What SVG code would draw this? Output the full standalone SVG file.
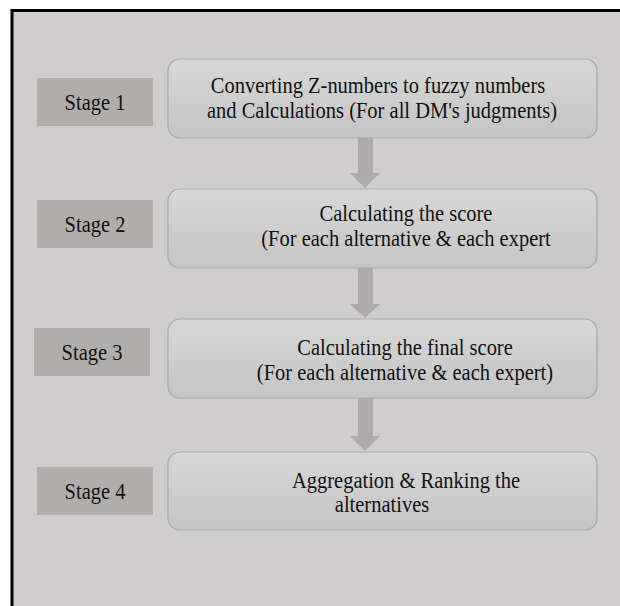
<svg xmlns="http://www.w3.org/2000/svg" width="620" height="606" viewBox="0 0 620 606">
  <defs>
    <linearGradient id="boxGrad" x1="0" y1="0" x2="0" y2="1">
      <stop offset="0" stop-color="#d7d7d7"/>
      <stop offset="1" stop-color="#c5c5c5"/>
    </linearGradient>
    <style>
      .frame { fill: #cfcdcd; stroke: #000000; stroke-width: 3; }
      .stage { fill: #b1adab; }
      .box { fill: url(#boxGrad); stroke: #a9a9a9; stroke-width: 1.2; }
      .arrow { fill: #aeaaaa; }
      .t { font-family: "Liberation Serif", "Times New Roman", serif; font-size: 20.5px; fill: #111111; text-anchor: middle; }
    </style>
  </defs>
  <rect x="0" y="0" width="620" height="606" fill="#ffffff"/>
  <rect class="frame" x="12" y="10.5" width="620" height="620"/>

  <g id="connectors">
    <polygon class="arrow" points="358,138 373,138 373,173 380,173 365,188 350,173 358,173"/>
    <polygon class="arrow" points="358,268 373,268 373,304 380,304 365,318 350,304 358,304"/>
    <polygon class="arrow" points="358,398 373,398 373,436 380,436 365,451 350,436 358,436"/>
  </g>

  <g id="stage1">
    <rect class="stage" x="37" y="78" width="116" height="48"/>
    <text class="t" transform="translate(95,109.5) scale(1,1.12)">Stage 1</text>
  </g>
  <g id="step1">
    <rect class="box" x="168" y="59" width="429" height="79" rx="12"/>
    <text class="t" transform="translate(378,93) scale(1,1.1)">Converting Z-numbers to fuzzy numbers</text>
    <text class="t" transform="translate(382,117.5) scale(1,1.1)">and Calculations (For all DM's judgments)</text>
  </g>

  <g id="stage2">
    <rect class="stage" x="37" y="200" width="116" height="48"/>
    <text class="t" transform="translate(95,231.5) scale(1,1.12)">Stage 2</text>
  </g>
  <g id="step2">
    <rect class="box" x="168" y="189" width="429" height="79" rx="12"/>
    <text class="t" transform="translate(406,221) scale(1,1.1)">Calculating the score</text>
    <text class="t" transform="translate(406,245.5) scale(1,1.1)">(For each alternative &amp; each expert</text>
  </g>

  <g id="stage3">
    <rect class="stage" x="34" y="328" width="116" height="48"/>
    <text class="t" transform="translate(92,359.5) scale(1,1.12)">Stage 3</text>
  </g>
  <g id="step3">
    <rect class="box" x="168" y="319" width="429" height="79" rx="12"/>
    <text class="t" transform="translate(405,355) scale(1,1.1)">Calculating the final score</text>
    <text class="t" transform="translate(405,379.5) scale(1,1.1)">(For each alternative &amp; each expert)</text>
  </g>

  <g id="stage4">
    <rect class="stage" x="37" y="467" width="116" height="48"/>
    <text class="t" transform="translate(95,498.5) scale(1,1.12)">Stage 4</text>
  </g>
  <g id="step4">
    <rect class="box" x="168" y="452" width="429" height="78" rx="12"/>
    <text class="t" transform="translate(406,487.5) scale(1,1.1)">Aggregation &amp; Ranking the</text>
    <text class="t" transform="translate(382,512) scale(1,1.1)">alternatives</text>
  </g>
</svg>
